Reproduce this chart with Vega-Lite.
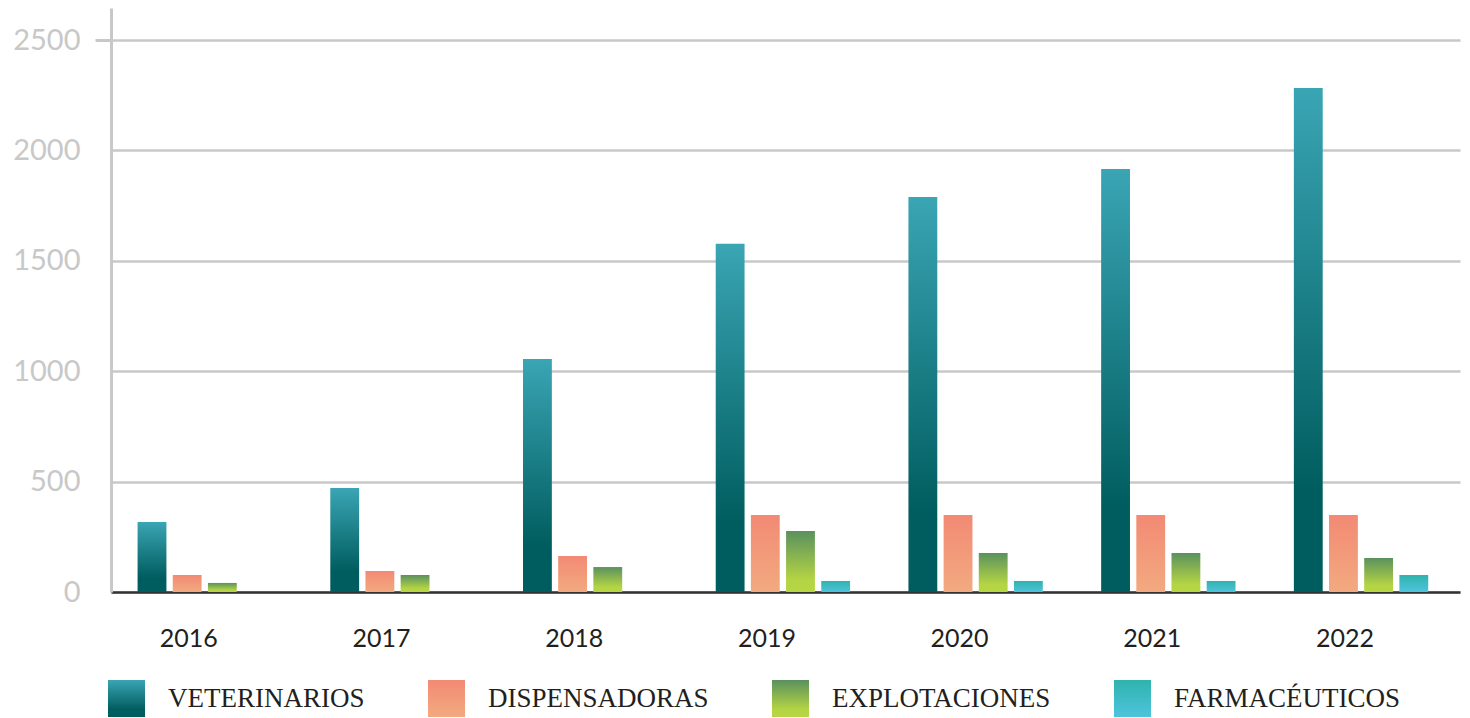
{
  "$schema": "https://vega.github.io/schema/vega-lite/v6.json",
  "width": 1349,
  "height": 584,
  "autosize": {"type": "none"},
  "padding": {"left": 111, "top": 8, "right": 10, "bottom": 126},
  "background": "white",
  "config": {"view": {"stroke": null}},
  "data": {
    "values": [
      {"year": "2016", "categoria": "VETERINARIOS", "valor": 317},
      {"year": "2016", "categoria": "DISPENSADORAS", "valor": 77},
      {"year": "2016", "categoria": "EXPLOTACIONES", "valor": 41},
      {"year": "2017", "categoria": "VETERINARIOS", "valor": 471},
      {"year": "2017", "categoria": "DISPENSADORAS", "valor": 95},
      {"year": "2017", "categoria": "EXPLOTACIONES", "valor": 77},
      {"year": "2018", "categoria": "VETERINARIOS", "valor": 1055},
      {"year": "2018", "categoria": "DISPENSADORAS", "valor": 163},
      {"year": "2018", "categoria": "EXPLOTACIONES", "valor": 113},
      {"year": "2019", "categoria": "VETERINARIOS", "valor": 1577},
      {"year": "2019", "categoria": "DISPENSADORAS", "valor": 349},
      {"year": "2019", "categoria": "EXPLOTACIONES", "valor": 276},
      {"year": "2019", "categoria": "FARMACÉUTICOS", "valor": 50},
      {"year": "2020", "categoria": "VETERINARIOS", "valor": 1789},
      {"year": "2020", "categoria": "DISPENSADORAS", "valor": 349},
      {"year": "2020", "categoria": "EXPLOTACIONES", "valor": 177},
      {"year": "2020", "categoria": "FARMACÉUTICOS", "valor": 50},
      {"year": "2021", "categoria": "VETERINARIOS", "valor": 1916},
      {"year": "2021", "categoria": "DISPENSADORAS", "valor": 349},
      {"year": "2021", "categoria": "EXPLOTACIONES", "valor": 177},
      {"year": "2021", "categoria": "FARMACÉUTICOS", "valor": 50},
      {"year": "2022", "categoria": "VETERINARIOS", "valor": 2283},
      {"year": "2022", "categoria": "DISPENSADORAS", "valor": 349},
      {"year": "2022", "categoria": "EXPLOTACIONES", "valor": 154},
      {"year": "2022", "categoria": "FARMACÉUTICOS", "valor": 77}
    ]
  },
  "mark": {"type": "bar", "cornerRadius": 0, "opacity": 1},
  "encoding": {
    "x": {
      "field": "year",
      "type": "nominal",
      "scale": {"paddingInner": 0.27, "paddingOuter": 0.135, "align": 0.45},
      "axis": {
        "title": null,
        "labelAngle": 0,
        "labelFont": "Lato",
        "labelFontSize": 25,
        "labelColor": "#231f20",
        "labelPadding": 34,
        "labelOffset": -16,
        "ticks": false,
        "domainColor": "#333333",
        "domainWidth": 2.5,
        "grid": false
      }
    },
    "xOffset": {
      "field": "categoria",
      "type": "nominal",
      "sort": ["VETERINARIOS", "DISPENSADORAS", "EXPLOTACIONES", "FARMACÉUTICOS"],
      "scale": {"paddingInner": 0.18, "paddingOuter": 0.09}
    },
    "y": {
      "field": "valor",
      "type": "quantitative",
      "scale": {"domain": [0, 2645], "nice": false},
      "axis": {
        "title": null,
        "values": [0, 500, 1000, 1500, 2000, 2500],
        "format": "d",
        "labelFont": "Lato",
        "labelFontSize": 29,
        "labelColor": "#c8c8c8",
        "labelPadding": 15,
        "tickSize": 16,
        "tickWidth": 3,
        "tickColor": {"condition": {"test": "datum.value === 2500", "value": "#c8c8c8"}, "value": "transparent"},
        "domainColor": "#c8c8c8",
        "domainWidth": 3,
        "gridColor": "#c8c8c8",
        "gridWidth": 2.5,
        "grid": true
      }
    },
    "color": {
      "field": "categoria",
      "type": "nominal",
      "sort": ["VETERINARIOS", "DISPENSADORAS", "EXPLOTACIONES", "FARMACÉUTICOS"],
      "scale": {
        "domain": ["VETERINARIOS", "DISPENSADORAS", "EXPLOTACIONES", "FARMACÉUTICOS"],
        "range": [
          {"expr": "{gradient: 'linear', x1: 0, y1: 0, x2: 0, y2: 1, stops: [{offset: 0, color: '#3aa5b4'}, {offset: 0.8, color: '#005d5f'}, {offset: 1, color: '#005d5f'}]}"},
          {"expr": "{gradient: 'linear', x1: 0, y1: 0, x2: 0, y2: 1, stops: [{offset: 0, color: '#f28a74'}, {offset: 1, color: '#f2aa80'}]}"},
          {"expr": "{gradient: 'linear', x1: 0, y1: 0, x2: 0, y2: 1, stops: [{offset: 0, color: '#5a915e'}, {offset: 0.8, color: '#b4d443'}, {offset: 1, color: '#b6d643'}]}"},
          {"expr": "{gradient: 'linear', x1: 0, y1: 0, x2: 0, y2: 1, stops: [{offset: 0, color: '#2fb3ad'}, {offset: 1, color: '#4ec4dd'}]}"}
        ]
      },
      "legend": {
        "orient": "none",
        "legendX": -3,
        "legendY": 672,
        "direction": "horizontal",
        "title": null,
        "padding": 0,
        "symbolType": "square",
        "symbolSize": 1369,
        "symbolStrokeWidth": 0,
        "symbolOpacity": 1,
        "labelFont": "Liberation Serif",
        "labelFontSize": 27,
        "labelColor": "#231f20",
        "labelOffset": 23,
        "labelLimit": 400,
        "columnPadding": 63
      }
    }
  }
}
